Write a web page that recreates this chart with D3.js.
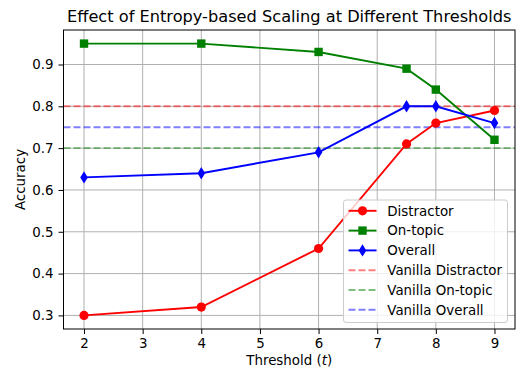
<!DOCTYPE html>
<meta charset="utf-8">
<style>
body { margin: 0; background: #fff; }
text { font-family: "DejaVu Sans", sans-serif; fill: #000; }
.tick text { font-size: 13.4px; }
.grid line { stroke: #b0b0b0; stroke-width: 1; }
</style>
<body>
<script src="https://cdnjs.cloudflare.com/ajax/libs/d3/7.8.5/d3.min.js"></script>
<script>

var thresholds = [2, 4, 6, 7.5, 8, 9];
var distractor = [0.30, 0.32, 0.46, 0.71, 0.76, 0.79];
var onTopic = [0.95, 0.95, 0.93, 0.89, 0.84, 0.72];
var overall = [0.63, 0.64, 0.69, 0.80, 0.80, 0.76];
var vanilla = [0.80, 0.70, 0.75];
var xTicks = [2, 3, 4, 5, 6, 7, 8, 9];
var yTicks = [0.3, 0.4, 0.5, 0.6, 0.7, 0.8, 0.9];

var series = [
  {name: "Distractor", values: distractor, color: "red", marker: "circle"},
  {name: "On-topic", values: onTopic, color: "green", marker: "square"},
  {name: "Overall", values: overall, color: "blue", marker: "diamond"}
];
var vanillaNames = ["Vanilla Distractor", "Vanilla On-topic", "Vanilla Overall"];
var vanillaColors = ["red", "green", "blue"];

var width = 516, height = 372;
var plotL = 63.5, plotR = 515, plotT = 30, plotB = 329;

var x = d3.scaleLinear().domain([1.65, 9.35]).range([plotL, plotR]);
var y = d3.scaleLinear().domain([0.2675, 0.9825]).range([plotB, plotT]);

var svg = d3.select("body").append("svg")
    .attr("width", width)
    .attr("height", height);

// grid
var grid = svg.append("g").attr("class", "grid");
grid.selectAll(".gx").data(xTicks).enter().append("line")
    .attr("x1", function(d) { return x(d); }).attr("x2", function(d) { return x(d); })
    .attr("y1", plotT).attr("y2", plotB);
grid.selectAll(".gy").data(yTicks).enter().append("line")
    .attr("x1", plotL).attr("x2", plotR)
    .attr("y1", function(d) { return y(d); }).attr("y2", function(d) { return y(d); });

// axes
var xAxis = svg.append("g")
    .attr("transform", "translate(0," + plotB + ")")
    .call(d3.axisBottom(x).tickValues(xTicks).tickSize(5).tickPadding(4.5).tickFormat(d3.format("d")));
var yAxis = svg.append("g")
    .attr("transform", "translate(" + plotL + ",0)")
    .call(d3.axisLeft(y).tickValues(yTicks).tickSize(5).tickPadding(5).tickFormat(d3.format(".1f")));
[xAxis, yAxis].forEach(function(a) {
  a.select(".domain").remove();
  a.selectAll(".tick line").attr("stroke", "#000").attr("stroke-width", 1);
  a.selectAll(".tick text").attr("fill", "#000").style("font-family", "DejaVu Sans");
});

// vanilla reference lines
svg.selectAll(".vanilla").data(vanilla).enter().append("line")
    .attr("x1", plotL).attr("x2", plotR)
    .attr("y1", function(d) { return y(d); }).attr("y2", function(d) { return y(d); })
    .attr("stroke", function(d, i) { return vanillaColors[i]; })
    .attr("stroke-opacity", 0.5)
    .attr("stroke-width", 1.9)
    .attr("stroke-dasharray", "7,3");

function markerPath(type) {
  if (type === "circle") return d3.symbol(d3.symbolCircle, Math.PI * 4.6 * 4.6)();
  if (type === "square") return "M-4.2,-4.2H4.2V4.2H-4.2Z";
  return "M0,-6.2L3.8,0L0,6.2L-3.8,0Z";
}

var line = d3.line()
    .x(function(d, i) { return x(thresholds[i]); })
    .y(function(d) { return y(d); });

series.forEach(function(s) {
  svg.append("path")
      .attr("d", line(s.values))
      .attr("fill", "none")
      .attr("stroke", s.color)
      .attr("stroke-width", 1.9);
  svg.selectAll(".m-" + s.marker).data(s.values).enter().append("path")
      .attr("d", markerPath(s.marker))
      .attr("transform", function(d, i) { return "translate(" + x(thresholds[i]) + "," + y(d) + ")"; })
      .attr("fill", s.color);
});

// frame
svg.append("rect")
    .attr("x", plotL).attr("y", plotT)
    .attr("width", plotR - plotL).attr("height", plotB - plotT)
    .attr("fill", "none").attr("stroke", "#000").attr("stroke-width", 1);

// legend
var lg = svg.append("g").attr("transform", "translate(343.5,200)");
lg.append("rect")
    .attr("width", 164).attr("height", 122.5).attr("rx", 2.5)
    .attr("fill", "#fff").attr("fill-opacity", 0.8)
    .attr("stroke", "#cccccc").attr("stroke-width", 1);

var items = series.map(function(s) { return {name: s.name, color: s.color, marker: s.marker, dashed: false}; })
  .concat(vanillaNames.map(function(n, i) { return {name: n, color: vanillaColors[i], marker: null, dashed: true}; }));

var row = lg.selectAll(".row").data(items).enter().append("g")
    .attr("transform", function(d, i) { return "translate(0," + (10.8 + i * 19.8) + ")"; });
row.append("line")
    .attr("x1", 5).attr("x2", 33)
    .attr("stroke", function(d) { return d.color; })
    .attr("stroke-width", 1.9)
    .attr("stroke-opacity", function(d) { return d.dashed ? 0.5 : 1; })
    .attr("stroke-dasharray", function(d) { return d.dashed ? "7,3" : null; });
row.filter(function(d) { return d.marker; }).append("path")
    .attr("d", function(d) { return markerPath(d.marker); })
    .attr("transform", "translate(19,0)")
    .attr("fill", function(d) { return d.color; });
row.append("text")
    .attr("x", 43.8).attr("dy", "0.36em")
    .style("font-size", "13.4px")
    .text(function(d) { return d.name; });

// labels
svg.append("text")
    .attr("x", (plotL + plotR) / 2).attr("y", 22)
    .attr("text-anchor", "middle")
    .style("font-size", "16.2px")
    .text("Effect of Entropy-based Scaling at Different Thresholds");

var xl = svg.append("text")
    .attr("x", (plotL + plotR) / 2).attr("y", 365)
    .attr("text-anchor", "middle")
    .style("font-size", "13.4px");
xl.append("tspan").text("Threshold (");
xl.append("tspan").style("font-style", "italic").text("t");
xl.append("tspan").text(")");

svg.append("text")
    .attr("transform", "translate(25," + ((plotT + plotB) / 2) + ") rotate(-90)")
    .attr("text-anchor", "middle")
    .style("font-size", "13.4px")
    .text("Accuracy");

</script>
